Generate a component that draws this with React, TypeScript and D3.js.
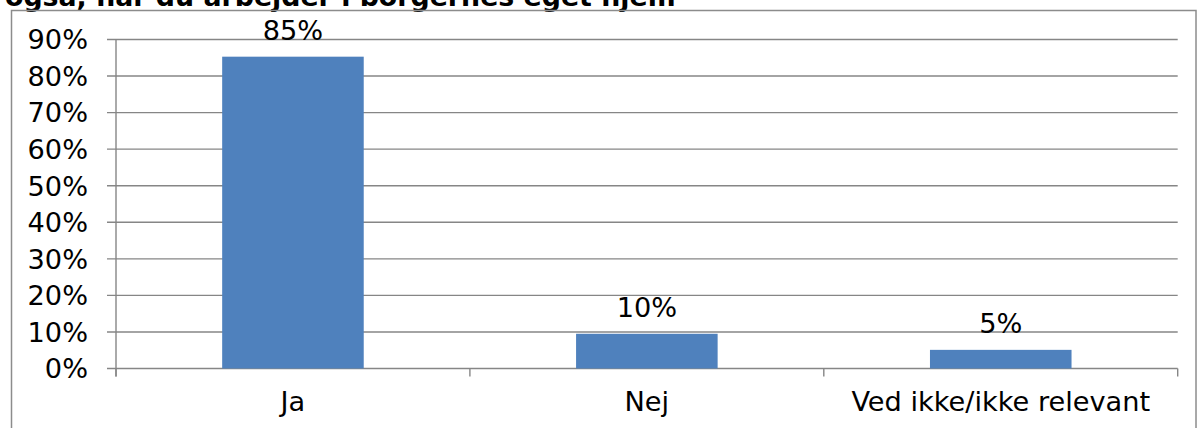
import React from "react";
import * as d3 from "d3";

const width = 1197;
const height = 428;

// survey answers
const categories = ["Ja", "Nej", "Ved ikke/ikke relevant"];
const values = [0.853, 0.095, 0.051];
const valueLabels = ["85%", "10%", "5%"];
const yTicks = [0, 0.1, 0.2, 0.3, 0.4, 0.5, 0.6, 0.7, 0.8, 0.9];
const title = "også, når du arbejder i borgernes eget hjem";

const margin = { top: 39.5, right: 19.3, bottom: 59.5, left: 116 };
const font = "'DejaVu Sans', Verdana, sans-serif";
const fontSize = 27.2;
const gridColor = "#868686";
const barColor = "#4f81bd";

export default function App() {
    const x = d3.scaleBand()
        .domain(categories)
        .range([margin.left, width - margin.right])
        .paddingInner(0)
        .paddingOuter(0);

    const y = d3.scaleLinear()
        .domain([0, 0.9])
        .range([height - margin.bottom, margin.top]);

    const fmt = d3.format(".0%");
    const barW = x.step() * 0.4;
    const y0 = y(0);

    // tick positions on the category axis: the band edges
    const xEdges = categories.map(c => x(c) as number).concat([width - margin.right]);

    return (
        <svg width={width} height={height} style={{ position: "absolute", left: 0, top: 0 }}
             fontFamily={font}>
            <rect x={0} y={0} width={width} height={height} fill="#fff" />
            <text x={5} y={6} fontSize={26.8} fontWeight="bold" fill="#000">{title}</text>
            <rect x={11.5} y={10.5} width={width - 12.5} height={height} fill="none"
                  stroke="#8c8c8c" strokeWidth={1.5} />

            {yTicks.map(t => (
                <g key={t}>
                    <line x1={margin.left - 9} x2={width - margin.right} y1={y(t)} y2={y(t)}
                          stroke={gridColor} strokeWidth={1.4} />
                    <text x={88} y={y(t)} dy="0.36em" textAnchor="end" fontSize={fontSize} fill="#000">
                        {fmt(t)}
                    </text>
                </g>
            ))}

            <line x1={margin.left} x2={margin.left} y1={margin.top} y2={y0 + 8}
                  stroke={gridColor} strokeWidth={1.4} />
            {xEdges.map((e, i) => (
                <line key={i} x1={e} x2={e} y1={y0} y2={y0 + 8} stroke={gridColor} strokeWidth={1.4} />
            ))}

            {categories.map((c, i) => {
                const cx = (x(c) as number) + x.bandwidth() / 2;
                return (
                    <g key={c}>
                        <rect x={cx - barW / 2} y={y(values[i])} width={barW} height={y0 - y(values[i])}
                              fill={barColor} />
                        <text x={cx} y={y(values[i]) - 17} textAnchor="middle" fontSize={fontSize} fill="#000">
                            {valueLabels[i]}
                        </text>
                        <text x={cx} y={411} textAnchor="middle" fontSize={fontSize} fill="#000">{c}</text>
                    </g>
                );
            })}
        </svg>
    );
}
